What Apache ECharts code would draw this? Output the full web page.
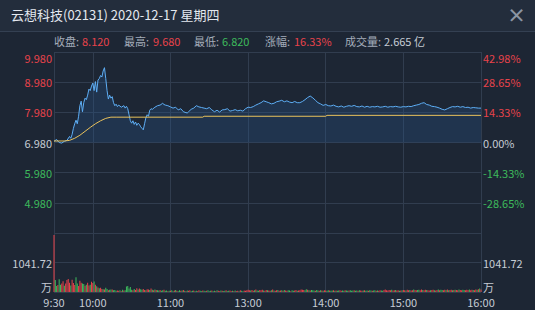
<!DOCTYPE html>
<html><head><meta charset="utf-8">
<script src="https://cdn.jsdelivr.net/npm/echarts@6/dist/echarts.min.js"></script>
<style>html,body{margin:0;padding:0;background:#1d2634;}#c{width:535px;height:310px;}</style>
</head><body><div id="c"></div>
<script>
// ---------- data ----------
const titleText = '云想科技(02131) 2020-12-17 星期四';
const infoLabels = ['收盘:', '最高:', '最低:', '涨幅:', '成交量:'];
const infoValues = ['8.120', '9.680', '6.820', '16.33%', '2.665 亿'];
const infoTones  = ['up', 'up', 'down', 'up', 'flat'];
const tickLabels = ['9:30', '10:00', '11:00', '13:00', '14:00', '15:00', '16:00'];
const prevClose = 6.98;
const volUnit = 1041.72;

// minute index (0 = 9:30, 150 = 13:00, 330 = 16:00) and last price
const priceMin = [0,2,4,6,8,10,12,13,14,15,16,17,18,19,20,21,22,23,24,25,26,27,28,29,30,31,32,33,34,35,36,37,38,39,40,41,42,43,44,45,46,47,48,49,50,52,54,55,56,57,58,59,60,61,62,63,64,65,66,67,68,69,70,71,72,73,74,75,76,78,80,82,84,85,86,88,90,92,94,96,98,100,102,103,104,106,108,110,112,114,116,118,120,122,124,126,128,130,132,134,136,138,140,142,144,146,148,150,152,154,156,158,160,162,164,166,168,170,172,174,176,178,180,182,184,186,188,190,192,194,196,198,200,202,204,206,208,210,212,214,216,218,220,222,224,226,228,230,232,234,236,238,240,242,244,246,248,250,252,254,256,258,260,262,264,266,268,270,272,274,276,278,280,282,284,286,288,290,292,294,296,298,300,302,304,306,308,310,312,314,316,318,320,322,324,326,328,330];
const priceVal = [7.02,7.08,6.98,6.96,7.02,7.05,7.18,7.12,7.25,7.45,7.60,7.72,7.60,7.85,8.20,8.35,8.00,8.30,8.45,8.40,8.55,8.75,8.70,8.85,8.95,8.70,9.00,8.65,9.05,9.10,9.20,9.15,9.35,9.46,9.10,8.70,8.42,8.55,8.45,8.50,8.30,8.20,8.25,8.17,8.22,8.15,8.20,8.12,8.18,8.10,7.90,7.70,7.62,7.70,7.58,7.66,7.55,7.62,7.58,7.50,7.45,7.40,7.60,7.80,7.90,7.85,8.05,8.10,8.08,8.15,8.20,8.22,8.28,8.24,8.22,8.20,8.16,8.12,8.15,8.06,8.10,8.00,7.97,7.96,8.00,8.08,8.12,8.20,8.16,8.14,8.12,8.10,8.14,8.06,8.00,8.05,7.99,8.06,8.07,8.10,8.02,8.04,8.07,8.03,8.05,8.02,8.10,8.15,8.14,8.17,8.22,8.26,8.30,8.36,8.33,8.30,8.26,8.28,8.33,8.35,8.38,8.33,8.36,8.32,8.30,8.34,8.30,8.30,8.34,8.40,8.47,8.52,8.46,8.38,8.30,8.26,8.21,8.24,8.20,8.19,8.22,8.18,8.16,8.19,8.15,8.18,8.20,8.18,8.21,8.17,8.16,8.19,8.15,8.18,8.15,8.17,8.16,8.18,8.15,8.16,8.18,8.15,8.17,8.16,8.18,8.16,8.15,8.17,8.16,8.18,8.17,8.20,8.22,8.24,8.28,8.30,8.24,8.22,8.18,8.17,8.15,8.12,8.08,8.06,8.10,8.14,8.17,8.16,8.18,8.15,8.17,8.14,8.15,8.12,8.14,8.13,8.12,8.12];

// average price line
const avgMin = [0,8,12,16,20,24,28,32,36,40,44,48,115,116,210,211,330];
const avgVal = [7.03,7.03,7.05,7.12,7.22,7.35,7.48,7.60,7.70,7.78,7.82,7.82,7.82,7.85,7.85,7.88,7.88];

// volume per minute (万) and direction (u = up, d = down)
const volume = [
2010,420,210,250,450,260,300,380,220,300,
420,460,330,230,430,320,250,520,300,210,
400,330,300,280,220,260,330,230,260,360,
320,370,260,200,160,130,150,110,100,90,
150,110,60,80,90,90,60,70,40,50,
40,60,30,80,50,60,190,210,120,180,
80,60,110,70,130,90,120,100,80,110,
70,60,100,90,70,120,80,60,90,70,
60,50,70,40,60,80,40,50,30,40,
40,60,30,50,70,40,30,60,40,50,
70,40,30,50,40,60,30,40,50,30,
40,30,60,40,30,50,40,30,40,60,
30,40,50,30,40,30,60,40,30,50,
40,30,40,60,30,40,50,30,40,30,
50,30,40,30,60,40,30,50,40,60,
80,60,50,70,40,60,90,50,40,70,
60,80,50,40,70,60,50,40,60,90,
50,40,60,70,40,50,60,40,70,50,
40,60,50,30,60,40,50,70,40,50,
60,90,80,70,60,100,80,60,50,70,
60,50,40,70,50,40,60,50,40,60,
50,40,60,50,40,50,60,40,50,40,
50,60,40,50,40,60,50,40,50,60,
40,50,60,40,50,40,60,50,40,50,
60,40,50,40,60,50,40,50,60,40,
50,40,60,50,40,70,90,60,50,70,
60,80,50,60,70,50,60,40,50,60,
70,60,50,80,60,70,50,60,90,70,
60,70,80,60,90,70,60,80,70,60,
50,60,70,80,60,50,70,90,60,80,
70,60,80,70,90,60,70,80,60,70,
80,70,60,90,70,60,80,70,60,80,
70,90,60,80,70,60,90,80,100,120,
90];
const volDir = (
'uddudduudu' + 'uuuduuuddu' + 'uudduduudu' + 'udududuudu' +
'dduddudddu' + 'udududdddd' + 'duduududdu' + 'uduudududu' +
'ddudduddud' + 'uddududdud' + 'ududuuddud' + 'duudduddud' +
'ddudduduud' + 'uddudduudu' + 'duududduuu' + 'uuduududdu' +
'uuduuduudu' + 'duuduududu' + 'uddudduudu' + 'uuuuddudud' +
'dduddududu' + 'udduddudud' + 'duudduddud' + 'ddudduduud' +
'uddudduddu' + 'duudduuuuu' + 'uduuduudud' + 'uuduuduudu' +
'udduuduudu' + 'uduuduudud' + 'duududuudu' + 'duuduudduu' +
'uduuduudud' + 'u').split('');

// ---------- build ----------
const cats = [];
for (let m = 0; m <= 330; m++) {
  const t = m < 150 ? 9 * 60 + 30 + m : 13 * 60 + (m - 150);
  cats.push(Math.floor(t / 60) + ':' + String(t % 60).padStart(2, '0'));
}
const tickIdx = tickLabels.map(l => cats.indexOf(l));
const isTick = (i) => tickIdx.indexOf(i) >= 0;

const RED = '#e8434b', GREEN = '#3dbb5c', GRAY = '#c6ccd5', LABEL = '#a4adba';
const FONT = '"Microsoft YaHei","Noto Sans CJK SC",sans-serif';
const toneColor = t => t === 'up' ? RED : (t === 'down' ? GREEN : GRAY);
const priceColor = v => v > prevClose + 1e-6 ? RED : (v < prevClose - 1e-6 ? GREEN : GRAY);
const gridLine = { show: true, lineStyle: { color: '#313d4f', width: 1 } };

const priceData = priceMin.map((m, i) => [m, priceVal[i]]);
const avgData = avgMin.map((m, i) => [m, avgVal[i]]);
const volData = volume.map((v, i) => ({ value: [i, v], itemStyle: { color: volDir[i] === 'u' ? RED : GREEN } }));

const infoX = [[54, 82], [124, 153], [194, 222], [265, 294], [345, 384]];
const graphic = [
  { type: 'rect', left: 0, top: 0, shape: { width: 535, height: 31 }, style: { fill: '#232d3c' }, silent: true },
  { type: 'rect', left: 0, top: 31, shape: { width: 535, height: 1 }, style: { fill: '#344052' }, silent: true },
  { type: 'text', left: 11, top: 8, style: { text: titleText, fill: '#e3e8ef', font: '13px ' + FONT } },
  { type: 'text', left: 507, top: 5, style: { text: '×', fill: '#8b95a3', font: 'bold 19px ' + FONT } }
];
infoLabels.forEach((l, i) => {
  graphic.push({ type: 'text', left: infoX[i][0], top: 35, style: { text: l, fill: LABEL, font: '11px ' + FONT } });
  graphic.push({ type: 'text', left: infoX[i][1], top: 35, style: { text: infoValues[i], fill: toneColor(infoTones[i]), font: '11px ' + FONT } });
});

const chart = echarts.init(document.getElementById('c'), null, { renderer: 'svg' });
chart.setOption({
  backgroundColor: '#1d2634',
  animation: false,
  textStyle: { fontFamily: FONT },
  graphic: graphic,
  grid: [
    { left: 54, right: 54, top: 52, height: 181 },
    { left: 54, right: 54, top: 233, height: 59 }
  ],
  xAxis: [
    { type: 'category', gridIndex: 0, data: cats, boundaryGap: false,
      axisLine: { show: false }, axisTick: { show: false }, axisLabel: { show: false },
      splitLine: { show: true, interval: (i) => isTick(i), lineStyle: { color: '#313d4f' } } },
    { type: 'category', gridIndex: 1, data: cats, boundaryGap: false,
      axisLine: { show: false }, axisTick: { show: false },
      axisLabel: { show: true, interval: (i) => isTick(i), color: GRAY, fontSize: 11, margin: 4, fontFamily: FONT },
      splitLine: { show: true, interval: (i) => isTick(i), lineStyle: { color: '#313d4f' } } }
  ],
  yAxis: [
    { type: 'value', gridIndex: 0, min: 3.98, max: 9.98, interval: 1, position: 'left',
      axisLine: { show: false }, axisTick: { show: false }, splitLine: gridLine,
      axisLabel: { showMinLabel: false, margin: 2, fontSize: 11, fontFamily: FONT, verticalAlignMaxLabel: 'top',
        formatter: v => v.toFixed(3), color: v => priceColor(v) } },
    { type: 'value', gridIndex: 0, min: 3.98, max: 9.98, interval: 1, position: 'right',
      axisLine: { show: false }, axisTick: { show: false }, splitLine: { show: false },
      axisLabel: { showMinLabel: false, margin: 2, fontSize: 11, fontFamily: FONT, verticalAlignMaxLabel: 'top',
        formatter: v => ((v - prevClose) / prevClose * 100).toFixed(2).replace('-0.00', '0.00') + '%',
        color: v => priceColor(v) } },
    { type: 'value', gridIndex: 1, min: 0, max: volUnit * 2, interval: volUnit, position: 'left',
      axisLine: { show: false }, axisTick: { show: false }, splitLine: gridLine,
      axisLabel: { showMaxLabel: false, margin: 2, fontSize: 11, fontFamily: FONT, color: GRAY, verticalAlignMinLabel: 'bottom',
        formatter: v => v === 0 ? '万' : v.toFixed(2) } },
    { type: 'value', gridIndex: 1, min: 0, max: volUnit * 2, interval: volUnit, position: 'right',
      axisLine: { show: false }, axisTick: { show: false }, splitLine: { show: false },
      axisLabel: { showMaxLabel: false, margin: 2, fontSize: 11, fontFamily: FONT, color: GRAY, verticalAlignMinLabel: 'bottom',
        formatter: v => v === 0 ? '万' : v.toFixed(2) } }
  ],
  series: [
    { type: 'line', xAxisIndex: 0, yAxisIndex: 0, data: priceData, symbol: 'none',
      lineStyle: { color: '#5eaef5', width: 1 },
      areaStyle: { origin: prevClose, color: 'rgba(40,92,150,0.38)' }, z: 3 },
    { type: 'line', xAxisIndex: 0, yAxisIndex: 0, data: avgData, symbol: 'none',
      lineStyle: { color: '#e9c25c', width: 1 }, z: 4 },
    { type: 'bar', xAxisIndex: 1, yAxisIndex: 2, data: volData, barWidth: 1, z: 3 }
  ]
});
</script>
</body></html>
